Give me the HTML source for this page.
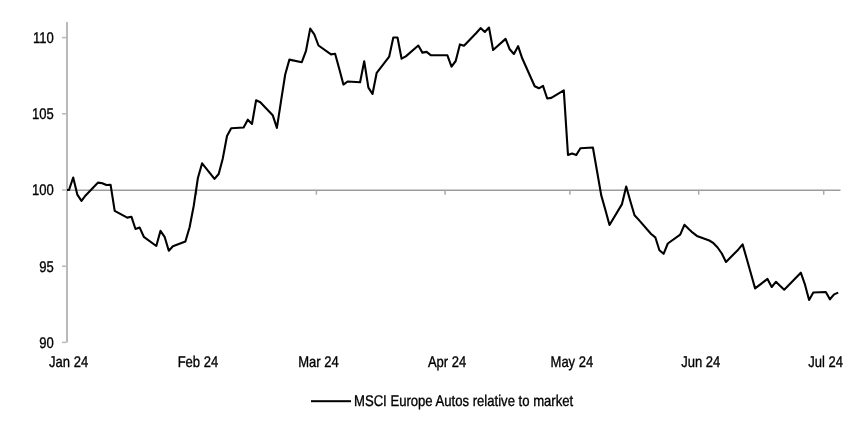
<!DOCTYPE html>
<html><head><meta charset="utf-8"><style>
html,body{margin:0;padding:0;background:#fff;width:852px;height:424px;overflow:hidden}
svg{display:block;will-change:transform}
</style></head><body>
<svg width="852" height="424" viewBox="0 0 852 424">
<rect width="852" height="424" fill="#fff"/>
<rect x="66" y="22" width="2" height="320.5" fill="#b9b9b9"/>
<rect x="62" y="36.85" width="4.5" height="1.5" fill="#b9b9b9"/>
<rect x="62" y="113.05" width="4.5" height="1.5" fill="#b9b9b9"/>
<rect x="62" y="189.25" width="4.5" height="1.5" fill="#b9b9b9"/>
<rect x="62" y="265.45" width="4.5" height="1.5" fill="#b9b9b9"/>
<rect x="62" y="341.65" width="4.5" height="1.5" fill="#b9b9b9"/>
<rect x="67" y="189.5" width="773.5" height="1.5" fill="#9c9c9c"/>
<rect x="195.75" y="190.5" width="1.5" height="4.2" fill="#aaaaaa"/>
<rect x="315.65" y="190.5" width="1.5" height="4.2" fill="#aaaaaa"/>
<rect x="444.35" y="190.5" width="1.5" height="4.2" fill="#aaaaaa"/>
<rect x="569.15" y="190.5" width="1.5" height="4.2" fill="#aaaaaa"/>
<rect x="697.95" y="190.5" width="1.5" height="4.2" fill="#aaaaaa"/>
<rect x="822.95" y="190.5" width="1.5" height="4.2" fill="#aaaaaa"/>
<text x="53.8" y="43.00" text-anchor="end" text-rendering="geometricPrecision" font-family="&quot;Liberation Sans&quot;, sans-serif" font-size="15.5" fill="#000" stroke="#000" stroke-width="0.35" textLength="20.80" lengthAdjust="spacingAndGlyphs">110</text>
<text x="53.8" y="119.20" text-anchor="end" text-rendering="geometricPrecision" font-family="&quot;Liberation Sans&quot;, sans-serif" font-size="15.5" fill="#000" stroke="#000" stroke-width="0.35" textLength="21.76" lengthAdjust="spacingAndGlyphs">105</text>
<text x="53.8" y="195.40" text-anchor="end" text-rendering="geometricPrecision" font-family="&quot;Liberation Sans&quot;, sans-serif" font-size="15.5" fill="#000" stroke="#000" stroke-width="0.35" textLength="21.76" lengthAdjust="spacingAndGlyphs">100</text>
<text x="53.8" y="271.60" text-anchor="end" text-rendering="geometricPrecision" font-family="&quot;Liberation Sans&quot;, sans-serif" font-size="15.5" fill="#000" stroke="#000" stroke-width="0.35" textLength="14.51" lengthAdjust="spacingAndGlyphs">95</text>
<text x="53.8" y="347.80" text-anchor="end" text-rendering="geometricPrecision" font-family="&quot;Liberation Sans&quot;, sans-serif" font-size="15.5" fill="#000" stroke="#000" stroke-width="0.35" textLength="14.51" lengthAdjust="spacingAndGlyphs">90</text>
<text x="68.60" y="367" text-anchor="middle" text-rendering="geometricPrecision" font-family="&quot;Liberation Sans&quot;, sans-serif" font-size="15.5" fill="#000" stroke="#000" stroke-width="0.35" textLength="39.16" lengthAdjust="spacingAndGlyphs">Jan 24</text>
<text x="197.95" y="367" text-anchor="middle" text-rendering="geometricPrecision" font-family="&quot;Liberation Sans&quot;, sans-serif" font-size="15.5" fill="#000" stroke="#000" stroke-width="0.35" textLength="40.60" lengthAdjust="spacingAndGlyphs">Feb 24</text>
<text x="318.55" y="367" text-anchor="middle" text-rendering="geometricPrecision" font-family="&quot;Liberation Sans&quot;, sans-serif" font-size="15.5" fill="#000" stroke="#000" stroke-width="0.35" textLength="40.59" lengthAdjust="spacingAndGlyphs">Mar 24</text>
<text x="447.10" y="367" text-anchor="middle" text-rendering="geometricPrecision" font-family="&quot;Liberation Sans&quot;, sans-serif" font-size="15.5" fill="#000" stroke="#000" stroke-width="0.35" textLength="38.42" lengthAdjust="spacingAndGlyphs">Apr 24</text>
<text x="571.90" y="367" text-anchor="middle" text-rendering="geometricPrecision" font-family="&quot;Liberation Sans&quot;, sans-serif" font-size="15.5" fill="#000" stroke="#000" stroke-width="0.35" textLength="42.76" lengthAdjust="spacingAndGlyphs">May 24</text>
<text x="700.80" y="367" text-anchor="middle" text-rendering="geometricPrecision" font-family="&quot;Liberation Sans&quot;, sans-serif" font-size="15.5" fill="#000" stroke="#000" stroke-width="0.35" textLength="39.16" lengthAdjust="spacingAndGlyphs">Jun 24</text>
<text x="825.65" y="367" text-anchor="middle" text-rendering="geometricPrecision" font-family="&quot;Liberation Sans&quot;, sans-serif" font-size="15.5" fill="#000" stroke="#000" stroke-width="0.35" textLength="34.80" lengthAdjust="spacingAndGlyphs">Jul 24</text>
<path d="M67.0,190.0 L69.0,190.0 L73.2,177.5 L77.3,194.6 L81.5,200.8 L85.6,195.4 L98.1,182.6 L102.3,183.3 L106.4,185.0 L110.6,184.8 L114.7,210.8 L127.2,217.6 L131.4,216.7 L135.5,229.0 L139.7,227.6 L143.8,236.8 L156.3,246.0 L160.5,230.8 L164.6,236.8 L168.8,250.7 L172.9,246.2 L185.4,241.5 L189.6,227.3 L193.7,206.0 L197.9,178.0 L202.1,163.3 L214.5,178.9 L218.7,174.0 L222.8,158.4 L227.0,136.0 L231.2,128.2 L243.6,127.5 L247.8,119.7 L252.0,123.9 L256.1,100.3 L260.3,102.3 L272.7,115.2 L276.9,127.9 L281.1,100.7 L285.2,74.5 L289.4,59.6 L301.8,62.2 L306.0,50.8 L310.2,28.6 L314.3,34.4 L318.5,45.5 L331.0,54.4 L335.1,53.7 L339.3,69.0 L343.4,84.6 L347.6,81.5 L360.1,82.3 L364.2,61.2 L368.4,87.6 L372.5,94.0 L376.7,72.8 L389.2,56.6 L393.3,37.5 L397.5,37.5 L401.6,58.7 L405.8,56.4 L418.3,45.5 L422.4,52.6 L426.6,51.9 L430.7,55.1 L434.9,55.2 L447.4,55.3 L451.5,66.6 L455.7,61.0 L459.9,44.4 L464.0,45.8 L476.5,32.8 L480.6,28.1 L484.8,32.0 L489.0,27.5 L493.1,50.0 L505.6,38.9 L509.7,49.3 L513.9,54.0 L518.1,46.2 L522.2,58.3 L534.7,86.2 L538.9,88.3 L543.0,85.8 L547.2,98.5 L551.3,97.9 L563.8,90.4 L568.0,155.0 L572.1,153.6 L576.3,155.0 L580.4,148.3 L592.9,147.5 L597.1,171.5 L601.2,195.1 L605.4,210.0 L609.5,225.0 L622.0,204.1 L626.2,186.5 L630.3,201.0 L634.5,215.2 L638.6,219.6 L651.1,234.0 L655.3,237.3 L659.4,250.3 L663.6,253.8 L667.8,243.5 L680.2,234.7 L684.4,224.8 L688.5,228.8 L692.7,232.7 L696.9,235.9 L709.3,240.5 L713.5,243.2 L717.6,247.5 L721.8,253.5 L726.0,262.0 L738.4,249.4 L742.6,244.4 L746.8,259.0 L750.9,273.5 L755.1,288.4 L767.5,278.9 L771.7,287.0 L775.9,281.8 L780.0,285.8 L784.2,289.7 L796.7,277.0 L800.8,272.7 L805.0,284.7 L809.1,300.0 L813.3,292.5 L825.8,292.0 L829.9,299.3 L834.1,294.4 L838.2,292.6" fill="none" stroke="#000" stroke-width="2.1" stroke-linejoin="round" stroke-linecap="butt"/>
<rect x="311" y="400.2" width="40" height="2" fill="#000"/>
<text x="354" y="405.8" text-rendering="geometricPrecision" font-family="&quot;Liberation Sans&quot;, sans-serif" font-size="15.5" fill="#000" stroke="#000" stroke-width="0.35" textLength="219.2" lengthAdjust="spacingAndGlyphs">MSCI Europe Autos relative to market</text>
</svg>
</body></html>
